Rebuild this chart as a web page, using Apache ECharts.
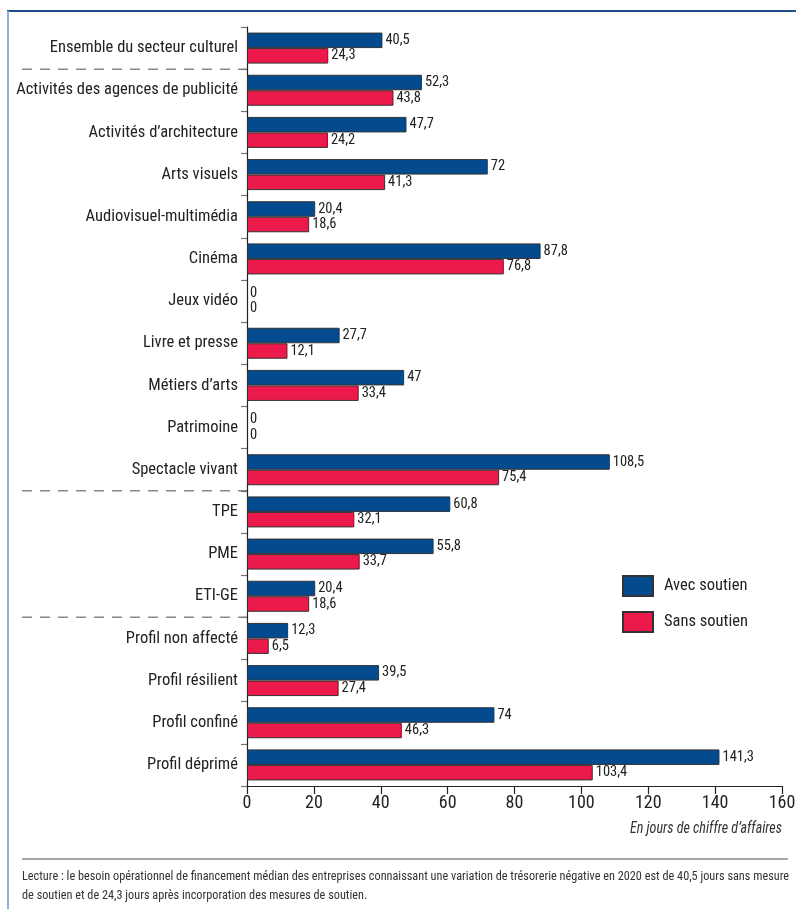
<!DOCTYPE html>
<html>
<head>
<meta charset="utf-8">
<script src="https://cdn.jsdelivr.net/npm/echarts@6/dist/echarts.min.js"></script>
<style>
  html, body { margin: 0; padding: 0; background: #fff; }
  #chart { width: 796px; height: 909px; }
</style>
</head>
<body>
<div id="chart"></div>
<script>
// Besoin opérationnel de financement médian, en jours de chiffre d'affaires
const categories = [
  'Ensemble du secteur culturel',
  'Activités des agences de publicité',
  'Activités d’architecture',
  'Arts visuels',
  'Audiovisuel-multimédia',
  'Cinéma',
  'Jeux vidéo',
  'Livre et presse',
  'Métiers d’arts',
  'Patrimoine',
  'Spectacle vivant',
  'TPE',
  'PME',
  'ETI-GE',
  'Profil non affecté',
  'Profil résilient',
  'Profil confiné',
  'Profil déprimé'
];
const avecSoutien = [40.5, 52.3, 47.7, 72, 20.4, 87.8, 0, 27.7, 47, 0, 108.5, 60.8, 55.8, 20.4, 12.3, 39.5, 74, 141.3];
const sansSoutien = [24.3, 43.8, 24.2, 41.3, 18.6, 76.8, 0, 12.1, 33.4, 0, 75.4, 32.1, 33.7, 18.6, 6.5, 27.4, 46.3, 103.4];
const seriesNames = ['Avec soutien', 'Sans soutien'];
const xTicks = { min: 0, max: 160, interval: 20 };
// groups are separated after these category indices
const separatorsAfter = [0, 10, 13];
const unitLabel = 'En jours de chiffre d’affaires';
const noteLines = [
  'Lecture : le besoin opérationnel de financement médian des entreprises connaissant une variation de trésorerie négative en 2020 est de 40,5 jours sans mesure',
  'de soutien et de 24,3 jours après incorporation des mesures de soutien.'
];

const FONT = '"Roboto Condensed", "Liberation Sans", sans-serif';
const BLUE = '#044a8e';
const RED = '#ec1a4b';

const chart = echarts.init(document.getElementById('chart'), null, { renderer: 'canvas' });

const fmt = p => String(p.value).replace('.', ',');

// empty bars get no outline so nothing is drawn on the axis
const barData = values => values.map(v => (v === 0 ? { value: 0, itemStyle: { borderWidth: 0 } } : v));

const barLabel = {
  show: true,
  position: 'right',
  distance: 3,
  formatter: fmt,
  fontFamily: FONT,
  fontSize: 14.5,
  color: '#222'
};

chart.setOption({
  animation: false,
  textStyle: { fontFamily: FONT },
  grid: { left: 247, right: 14, top: 27, bottom: 123, containLabel: false, outerBoundsMode: 'none' },
  legend: {
    orient: 'vertical',
    left: 617,
    top: 570,
    itemWidth: 30,
    itemHeight: 20,
    itemGap: 14,
    icon: 'rect',
    textStyle: { fontFamily: FONT, fontSize: 16.5, color: '#222', padding: [0, 0, 0, 6] },
    data: seriesNames
  },
  xAxis: {
    type: 'value',
    min: xTicks.min,
    max: xTicks.max,
    interval: xTicks.interval,
    axisLine: { show: true, lineStyle: { color: '#222', width: 1.2 } },
    axisTick: { show: true, length: 8, lineStyle: { color: '#222', width: 1.2 } },
    axisLabel: { fontFamily: FONT, fontSize: 18, color: '#222', margin: 8 },
    splitLine: { show: false }
  },
  yAxis: {
    type: 'category',
    inverse: true,
    data: categories,
    axisLine: { show: true, lineStyle: { color: '#222', width: 1.2 } },
    axisTick: { show: true, length: 6, lineStyle: { color: '#777', width: 1.2 } },
    axisLabel: { fontFamily: FONT, fontSize: 16.5, color: '#222', margin: 9 }
  },
  series: [
    {
      name: seriesNames[0],
      type: 'bar',
      data: barData(avecSoutien),
      barWidth: 15.5,
      barGap: '0%',
      itemStyle: { color: BLUE, borderColor: '#333', borderWidth: 1 },
      label: barLabel
    },
    {
      name: seriesNames[1],
      type: 'bar',
      data: barData(sansSoutien),
      barWidth: 15.5,
      barGap: '0%',
      itemStyle: { color: RED, borderColor: '#333', borderWidth: 1 },
      label: barLabel
    }
  ]
});

// width of a text line in a given font, to squeeze the note into the frame
function textWidth(text, font) {
  const ctx = document.createElement('canvas').getContext('2d');
  ctx.font = font;
  return ctx.measureText(text).width;
}

// frame, group separators, axis unit and reading note
function drawDecor() {
  const y0 = chart.convertToPixel({ yAxisIndex: 0 }, 0);
  const y1 = chart.convertToPixel({ yAxisIndex: 0 }, 1);
  const step = y1 - y0;
  const x0 = chart.convertToPixel({ xAxisIndex: 0 }, 0);
  const xEnd = chart.convertToPixel({ xAxisIndex: 0 }, xTicks.max);
  const axisY = chart.convertToPixel({ yAxisIndex: 0 }, categories.length - 1) + step / 2;

  const elements = [
    { type: 'line', shape: { x1: 7, y1: 11, x2: 796, y2: 11 }, style: { stroke: '#1d4d8d', lineWidth: 2 } },
    { type: 'line', shape: { x1: 8, y1: 11, x2: 8, y2: 909 }, style: { stroke: '#8db0d8', lineWidth: 2 } }
  ];
  separatorsAfter.forEach(i => {
    const y = chart.convertToPixel({ yAxisIndex: 0 }, i) + step / 2;
    elements.push({
      type: 'line',
      shape: { x1: 22, y1: y, x2: x0, y2: y },
      style: { stroke: '#888', lineWidth: 1.5, lineDash: [10, 8] }
    });
  });
  elements.push({
    type: 'text',
    x: xEnd,
    y: axisY + 43,
    scaleX: 0.88,
    style: {
      text: unitLabel,
      font: 'italic 16px ' + FONT,
      fill: '#333',
      align: 'right',
      verticalAlign: 'middle'
    }
  });
  elements.push({ type: 'line', shape: { x1: 22, y1: 859, x2: 788, y2: 859 }, style: { stroke: '#888', lineWidth: 1.5 } });
  const noteFont = '12.6px ' + FONT;
  const noteScale = Math.min(1, 767 / textWidth(noteLines[0], noteFont));
  elements.push({
    type: 'text',
    x: 22,
    y: 867,
    scaleX: noteScale,
    style: {
      text: noteLines.join('\n'),
      font: noteFont,
      lineHeight: 19,
      fill: '#333',
      align: 'left',
      verticalAlign: 'top'
    }
  });
  chart.setOption({ graphic: { elements: elements } });
}
drawDecor();
</script>
</body>
</html>
